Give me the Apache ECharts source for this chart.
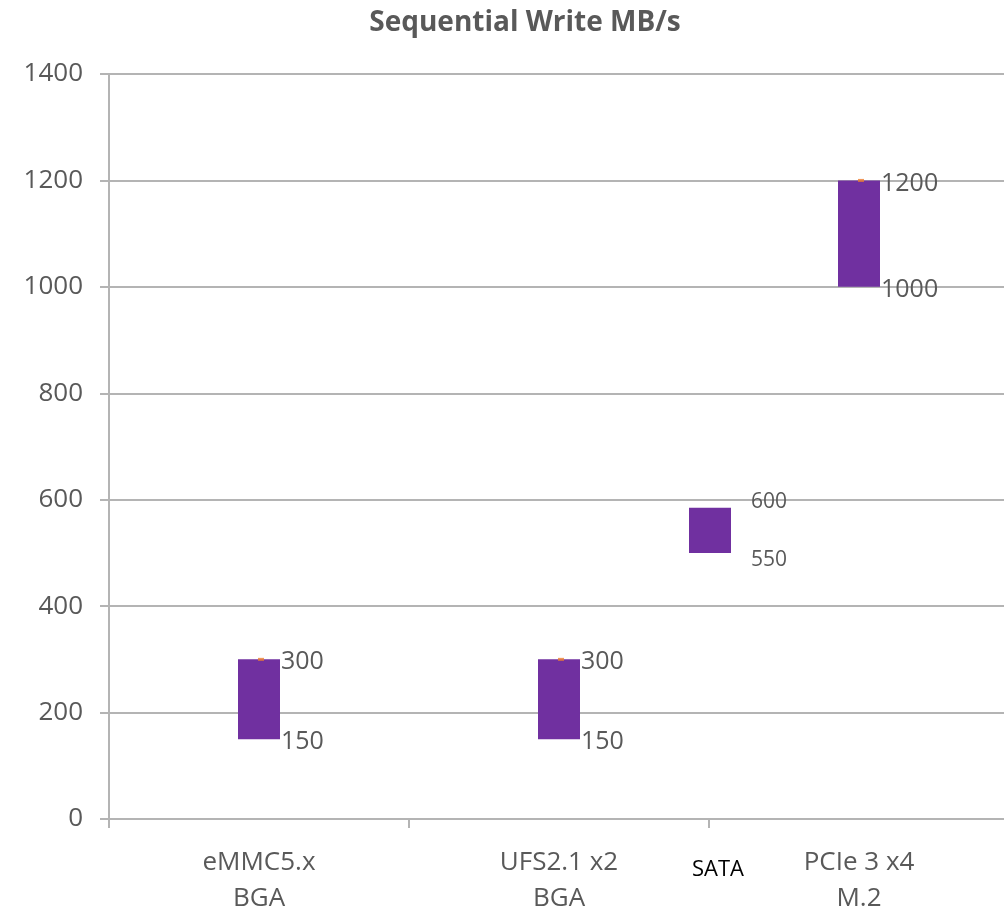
<!DOCTYPE html>
<html>
<head>
<meta charset="utf-8">
<script src="https://cdn.jsdelivr.net/npm/echarts@6/dist/echarts.min.js"></script>
<style>html,body{margin:0;padding:0;background:#fff;overflow:hidden}#c{width:1004px;height:911px}</style>
</head>
<body>
<div id="c"></div>
<script>
const title = 'Sequential Write MB/s';
const categories = ['eMMC5.x\nBGA', 'UFS2.1 x2\nBGA', 'PCIe 3 x4\nM.2'];
const lowValues = [150, 150, 1000];
const highValues = [300, 300, 1200];
const closeValues = [300, 300, 1200];
const sataName = 'SATA';
const sataPos = 2;            // between 2nd and 3rd category
const sataLow = 500;
const sataHigh = 585;
const sataLabels = ['600', '550'];
const yMin = 0, yMax = 1400, yInterval = 200;

const FONT = '"Open Sans", "Noto Sans", sans-serif';
const GREY = '#595959';
const LINE = '#b4b4b4';
const PURPLE = '#7030A0';
const BAR_W = 42;

const chart = echarts.init(document.getElementById('c'), null, {renderer: 'canvas', width: 1004, height: 911});

function rangeRender(params, api) {
  const top = api.coord([api.value(0), api.value(2)]);
  const bot = api.coord([api.value(0), api.value(1)]);
  const x0 = top[0] - BAR_W / 2;
  return {
    type: 'group',
    children: [
      {type: 'rect', shape: {x: x0, y: top[1], width: BAR_W, height: bot[1] - top[1]},
       style: {fill: PURPLE}},
      {type: 'text', x: x0 + BAR_W + 1, y: top[1] + 3,
       style: {text: String(api.value(2)), fill: GREY, font: '25px ' + FONT, verticalAlign: 'middle', align: 'left'}},
      {type: 'text', x: x0 + BAR_W + 1, y: bot[1] + 3,
       style: {text: String(api.value(1)), fill: GREY, font: '25px ' + FONT, verticalAlign: 'middle', align: 'left'}}
    ]
  };
}

function sataRender(params, api) {
  const top = api.coord([api.value(0), api.value(2)]);
  const bot = api.coord([api.value(0), api.value(1)]);
  const x0 = top[0] - BAR_W / 2 + 1;
  return {
    type: 'group',
    children: [
      {type: 'rect', shape: {x: x0, y: top[1], width: BAR_W, height: bot[1] - top[1]},
       style: {fill: PURPLE}},
      {type: 'text', x: x0 + BAR_W + 20, y: top[1] - 6,
       style: {text: sataLabels[0], fill: GREY, font: '21px ' + FONT, verticalAlign: 'middle', align: 'left'}},
      {type: 'text', x: x0 + BAR_W + 20, y: bot[1] + 7,
       style: {text: sataLabels[1], fill: GREY, font: '21px ' + FONT, verticalAlign: 'middle', align: 'left'}},
      {type: 'text', x: top[0] + 9, y: api.coord([api.value(0), 0])[1] + 51,
       style: {text: sataName, fill: '#000000', font: '22px ' + FONT, verticalAlign: 'middle', align: 'center'}}
    ]
  };
}

chart.setOption({
  animation: false,
  backgroundColor: '#ffffff',
  title: {
    text: title, left: 520, top: 4, textAlign: 'center',
    textStyle: {fontFamily: FONT, fontSize: 28, fontWeight: 'bold', color: GREY}
  },
  grid: {left: 109, right: -5, top: 74, bottom: 92, containLabel: false, outerBoundsMode: 'none'},
  xAxis: [{
    type: 'category', data: categories, boundaryGap: true,
    axisLine: {show: true, lineStyle: {color: LINE, width: 2}},
    axisTick: {show: true, length: 9, lineStyle: {color: LINE, width: 2}},
    axisLabel: {fontFamily: FONT, fontSize: 26, color: GREY, lineHeight: 36, margin: 26, interval: 0},
    splitLine: {show: false}
  }, {
    type: 'value', min: 0, max: categories.length, show: false
  }],
  yAxis: {
    type: 'value', min: yMin, max: yMax, interval: yInterval,
    axisLine: {show: true, lineStyle: {color: LINE, width: 2}},
    axisTick: {show: true, length: 9, lineStyle: {color: LINE, width: 2}},
    axisLabel: {fontFamily: FONT, fontSize: 26, color: GREY, margin: 26, formatter: v => String(v)},
    splitLine: {show: true, lineStyle: {color: LINE, width: 2}}
  },
  series: [{
    type: 'custom', xAxisIndex: 0,
    renderItem: rangeRender,
    data: categories.map((c, i) => [i, lowValues[i], highValues[i]]),
    z: 3
  }, {
    type: 'custom', xAxisIndex: 1,
    renderItem: sataRender,
    data: [[sataPos, sataLow, sataHigh]],
    z: 3
  }, {
    type: 'scatter', xAxisIndex: 0,
    data: closeValues,
    symbol: 'rect', symbolSize: [6, 3], symbolOffset: [2, 0],
    itemStyle: {color: '#ED7D31'},
    z: 4
  }]
});
</script>
</body>
</html>
